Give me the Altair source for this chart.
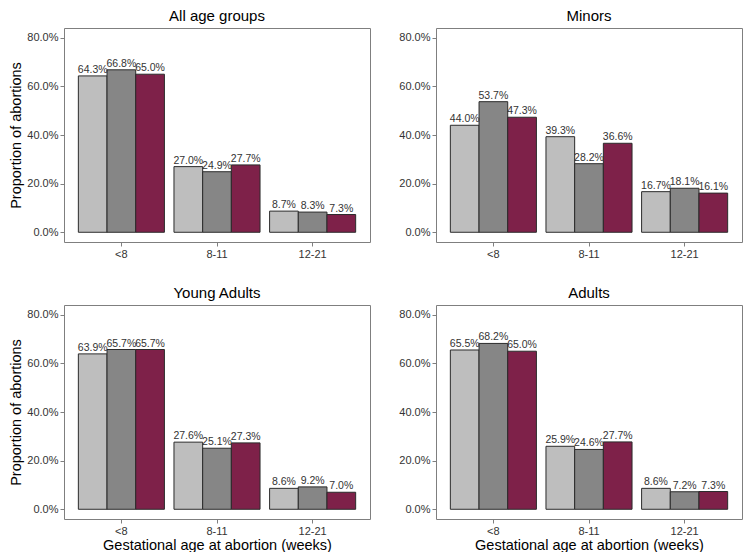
import altair as alt
import pandas as pd

panels = ["All age groups", "Minors", "Young Adults", "Adults"]
weeks = ["<8", "8-11", "12-21"]
series = ["Series 1", "Series 2", "Series 3"]
colors = ["#BEBEBE", "#868686", "#7E2149"]

# percent values per gestational-age group, one value per series
all_ages = [[64.3, 66.8, 65.0], [27.0, 24.9, 27.7], [8.7, 8.3, 7.3]]
minors = [[44.0, 53.7, 47.3], [39.3, 28.2, 36.6], [16.7, 18.1, 16.1]]
young_adults = [[63.9, 65.7, 65.7], [27.6, 25.1, 27.3], [8.6, 9.2, 7.0]]
adults = [[65.5, 68.2, 65.0], [25.9, 24.6, 27.7], [8.6, 7.2, 7.3]]
y_ticks = [0.0, 0.2, 0.4, 0.6, 0.8]

rows = []
for pname, vals in zip(panels, [all_ages, minors, young_adults, adults]):
    for w, grp in zip(weeks, vals):
        for s, v in zip(series, grp):
            rows.append({"panel": pname, "week": w, "series": s, "value": v / 100.0})
df = pd.DataFrame(rows)

FONT = "Liberation Sans"
W, H = 306, 214


def panel(name, x_title, y_title):
    base = alt.Chart(df).transform_filter(alt.datum.panel == name)
    x_axis = dict(labelAngle=0, titlePadding=2)
    if x_title:
        x_axis["title"] = "Gestational age at abortion (weeks)"
    else:
        x_axis["title"] = None
    y_axis = dict(values=y_ticks, format=".1%", titlePadding=3)
    if y_title:
        y_axis["title"] = "Proportion of abortions"
    else:
        y_axis["title"] = None
    x = alt.X("week:N", sort=weeks,
              scale=alt.Scale(paddingInner=0.1, paddingOuter=0.15),
              axis=alt.Axis(**x_axis))
    xo = alt.XOffset("series:N", sort=series,
                     scale=alt.Scale(paddingInner=0, paddingOuter=0))
    y = alt.Y("value:Q", scale=alt.Scale(domain=[-0.04, 0.84], nice=False, zero=False),
              axis=alt.Axis(**y_axis))
    bars = base.mark_bar(stroke="#2B2B2B", strokeWidth=1).encode(
        x=x, xOffset=xo, y=y,
        color=alt.Color("series:N", sort=series,
                        scale=alt.Scale(domain=series, range=colors), legend=None),
    )
    text = base.mark_text(baseline="bottom", dy=-1, fontSize=10.5, font=FONT,
                          color="#333333").encode(
        x=x, xOffset=xo, y=y,
        text=alt.Text("value:Q", format=".1%"),
    )
    return alt.layer(bars, text).properties(
        width=W, height=H,
        title=alt.TitleParams(name, fontSize=15, font=FONT, fontWeight="normal",
                              color="#000000", offset=4, anchor="middle"),
    )


chart = alt.concat(
    panel("All age groups", False, True),
    panel("Minors", False, False),
    panel("Young Adults", True, True),
    panel("Adults", True, False),
    columns=2,
    spacing={"row": 63, "column": 66},
    bounds="flush",
).properties(
    padding=0
).configure_view(
    stroke="#7F7F7F", strokeWidth=1
).configure_axis(
    grid=False, domain=False, labelFont=FONT, labelFontSize=11, labelColor="#333333",
    tickColor="#7F7F7F", tickSize=4, labelPadding=2,
    titleFont=FONT, titleFontSize=14.5, titleFontWeight="normal", titleColor="#000000",
)

chart.save("out.html", embed_options={"renderer": "svg", "actions": False})
